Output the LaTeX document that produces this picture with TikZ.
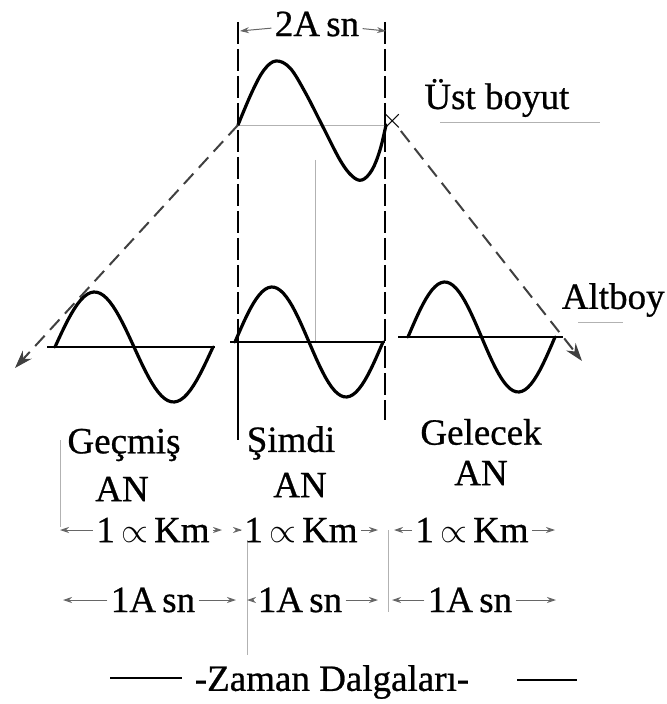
\documentclass[tikz,border=0pt]{standalone}
\usepackage{fontspec}
\setmainfont{Liberation Serif}
\newfontfamily\scanfont{Liberation Serif}[FakeBold=0.7]
\usetikzlibrary{arrows.meta}

\begin{document}
\begin{tikzpicture}[
  x=0.5pt, y=-0.5pt,
  wave/.style={line width=1.6pt, line join=round, line cap=round},
  axis/.style={line width=0.9pt},
  guide/.style={draw=black!30, line width=0.4pt},
  vdash/.style={line width=1pt, dash pattern=on 11pt off 2.5pt},
  diag/.style={line width=1pt, draw=black!75, dash pattern=on 7pt off 4pt,
    -{Stealth[length=9pt,width=6pt]}},
  dim/.style={line width=0.5pt, draw=black!60, -{Stealth[length=4.5pt,width=3pt]}},
  lbl/.style={font=\scanfont\fontsize{18.5}{20}\selectfont, inner sep=1.5pt}
]
  \useasboundingbox (0,0) rectangle (666,704);

  % faint guide lines
  \draw[guide] (238,125) -- (385,125);
  \draw[guide] (440,122) -- (600,122);
  \draw[guide] (578,322) -- (623,322);
  \draw[guide] (315,160) -- (315,342);
  \draw[guide] (60,440) -- (60,527);
  \draw[guide] (247,540) -- (247,655);
  \draw[guide] (388,530) -- (388,612);

  % vertical limits of the present moment
  \coordinate (vlt) at (238,22);
  \coordinate (vlm) at (238,343);
  \coordinate (vlb) at (238,440);
  \coordinate (vrt) at (385,22);
  \coordinate (vrb) at (385,420);
  \draw[vdash] (vlt) -- (vlm);
  \draw[line width=1pt] (vlm) -- (vlb);
  \draw[vdash] (vrt) -- (vrb);

  % upper dimension wave
  \draw[wave] plot[smooth, tension=0.6] coordinates {(238,125) (252,92) (264,70)
    (276,61) (290,68) (305,92) (322,125) (340,160) (352,176) (362,180)
    (372,170) (380,150) (386,125)};

  % past / present / future waves
  \draw[axis] (47,347) -- (215,347);
  \draw[axis] (230,342) -- (385,342);
  \draw[axis] (398,337) -- (563,337);
  \foreach \sx/\by/\p in {55/347/158, 235/342/148, 408/337/147}
    \draw[wave] plot[domain=0:360, samples=50] ({\sx+\x/360*\p}, {\by-55*sin(\x)});

  % dimension arrows
  \coordinate (ws) at (238,125);
  \node[inner sep=0pt, font=\fontsize{14}{14}\selectfont] (xm) at (393,121) {$\times$};
  \coordinate (ltip) at (15,368);
  \coordinate (rtip) at (582,361);
  \draw[diag] (ws) -- (ltip);
  \draw[diag] (xm) -- (rtip);

  \node[lbl] (top) at (317,24) {2A\,sn};
  \node[lbl, anchor=west] (ust) at (421,98) {Üst boyut};
  \node[lbl, anchor=east] (alt) at (668,300) {Altboy};

  \node[lbl] (gec) at (124,445) {Geçmiş};
  \node[lbl] (gecan) at (122,489) {AN};
  \node[lbl] (sim) at (291,443) {Şimdi};
  \node[lbl] (siman) at (300,485) {AN};
  \node[lbl] (gel) at (481,432) {Gelecek};
  \node[lbl] (gelan) at (481,473) {AN};

  % top span
  \coordinate (t1) at (240,31);
  \coordinate (t2) at (386,31);
  \draw[dim] (top) -- (t1);
  \draw[dim] (top) -- (t2);

  % length row
  \node[lbl] (km1) at (153,530) {1\,$\propto$\,Km};
  \node[lbl] (km2) at (301,530) {1\,$\propto$\,Km};
  \node[lbl] (km3) at (472,530) {1\,$\propto$\,Km};
  \coordinate (k1l) at (60,530);
  \coordinate (k1r) at (222,530);
  \coordinate (k2l) at (242,530);
  \coordinate (k2r) at (378,530);
  \coordinate (k3l) at (394,530);
  \coordinate (k3r) at (555,530);
  \foreach \n in {1,2,3} {
    \draw[dim] (km\n) -- (k\n l);
    \draw[dim] (km\n) -- (k\n r);
  }

  % time row
  \node[lbl] (sn1) at (153,600) {1A\,sn};
  \node[lbl] (sn2) at (300,600) {1A\,sn};
  \node[lbl] (sn3) at (470,600) {1A\,sn};
  \coordinate (s1l) at (63,600);
  \coordinate (s1r) at (236,600);
  \coordinate (s2l) at (247,600);
  \coordinate (s2r) at (378,600);
  \coordinate (s3l) at (392,600);
  \coordinate (s3r) at (556,600);
  \foreach \n in {1,2,3} {
    \draw[dim] (sn\n) -- (s\n l);
    \draw[dim] (sn\n) -- (s\n r);
  }

  % caption
  \node[lbl] (zaman) at (332,682) {-Zaman Dalgaları-};
  \coordinate (z1) at (110,678);
  \coordinate (z2) at (182,678);
  \coordinate (z3) at (517,680);
  \coordinate (z4) at (577,680);
  \draw[axis] (z1) -- (z2);
  \draw[axis] (z3) -- (z4);
\end{tikzpicture}
\end{document}
